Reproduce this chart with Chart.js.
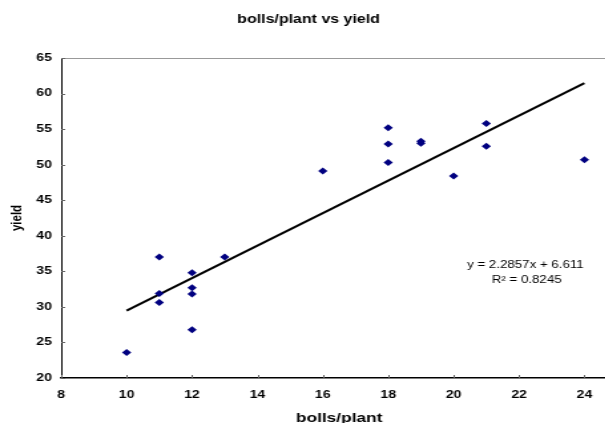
<!DOCTYPE html>
<html>
<head>
<meta charset="utf-8">
<script src="https://cdn.jsdelivr.net/npm/chart.js@4"></script>
<style>
  body { margin: 0; overflow: hidden; background: #fff; }
  #wrap { width: 605px; height: 423px; overflow: hidden; }
  /* the original picture is stretched sideways, so stretch the canvas the same way */
  #chart { transform: scaleX(1.33); transform-origin: 0 0; }
</style>
</head>
<body>
<div id="wrap"><canvas id="chart" width="490" height="423"></canvas></div>
<script>
// bolls per plant and yield
const bollsPerPlant = [10, 11, 11, 11, 12, 12, 12, 12, 13, 16, 18, 18, 18, 19, 19, 20, 21, 21, 24];
const yieldValues = [23.6, 37.0, 31.9, 30.6, 34.8, 32.7, 31.8, 26.8, 37.0, 49.1, 55.2, 52.9, 50.3, 53.3, 53.0, 48.4, 55.8, 52.6, 50.7];
const trendSlope = 2.2857;
const trendIntercept = 6.611;
const trendX = [10, 24];
const equationLines = ['y = 2.2857x + 6.611', 'R² = 0.8245'];

const points = bollsPerPlant.map((x, i) => ({ x: x, y: yieldValues[i] }));
const trend = trendX.map(x => ({ x: x, y: trendSlope * x + trendIntercept }));

const font = 'Liberation Sans, Arial, sans-serif';

// gray top border, inner tick marks and the equation label
const excelBits = {
  id: 'excelBits',
  afterDraw(chart) {
    const ctx = chart.ctx;
    const area = chart.chartArea;
    const xs = chart.scales.x, ys = chart.scales.y;
    ctx.save();
    ctx.strokeStyle = '#999';
    ctx.lineWidth = 1;
    ctx.beginPath();
    ctx.moveTo(area.left, area.top + 0.5);
    ctx.lineTo(chart.width, area.top + 0.5);
    ctx.stroke();

    ctx.strokeStyle = '#666';
    ctx.beginPath();
    xs.ticks.forEach(t => {
      const px = Math.round(xs.getPixelForValue(t.value)) + 0.5;
      ctx.moveTo(px, area.bottom);
      ctx.lineTo(px, area.bottom - 3);
    });
    ys.ticks.forEach(t => {
      const py = Math.round(ys.getPixelForValue(t.value)) + 0.5;
      ctx.moveTo(area.left, py);
      ctx.lineTo(area.left + 3, py);
    });
    ctx.stroke();

    ctx.fillStyle = '#000';
    ctx.font = '10px ' + font;
    ctx.textAlign = 'center';
    ctx.textBaseline = 'middle';
    ctx.fillText(equationLines[0], 395, 265);
    ctx.fillText(equationLines[1], 396, 280);
    ctx.restore();
  }
};

new Chart(document.getElementById('chart'), {
  type: 'scatter',
  data: {
    datasets: [
      {
        label: 'yield',
        data: points,
        pointStyle: 'rectRot',
        pointRadius: 3.5,
        pointBackgroundColor: '#000080',
        pointBorderColor: '#000080',
        borderWidth: 0
      },
      {
        label: 'trend',
        type: 'line',
        data: trend,
        borderColor: '#000',
        borderWidth: 2,
        pointRadius: 0,
        fill: false
      }
    ]
  },
  options: {
    responsive: false,
    animation: false,
    layout: { padding: { top: 0, right: 26, bottom: 0, left: 0 } },
    plugins: {
      legend: { display: false },
      tooltip: { enabled: false },
      title: {
        display: true,
        text: 'bolls/plant vs yield',
        color: '#000',
        font: { family: font, size: 12, weight: 'bold' },
        padding: { top: 12, bottom: 31.6 }
      }
    },
    scales: {
      x: {
        type: 'linear',
        min: 8,
        max: 25,
        ticks: { stepSize: 2, color: '#000', padding: 11, maxRotation: 0, font: { family: font, size: 10.5, weight: 'bold' } },
        afterBuildTicks(scale) {
          scale.ticks = scale.ticks.filter(t => t.value % 2 === 0 && t.value <= 24);
        },
        afterFit(scale) { scale.height = 45; },
        grid: { display: false, drawTicks: false },
        border: { display: true, color: '#000', width: 1.5 },
        title: {
          display: true,
          text: 'bolls/plant',
          color: '#000',
          font: { family: font, size: 13, weight: 'bold' },
          padding: { top: 0, bottom: -3 }
        }
      },
      y: {
        min: 20,
        max: 65,
        ticks: { stepSize: 5, color: '#000', padding: 7, font: { family: font, size: 10.5, weight: 'bold' } },
        afterFit(scale) { scale.width = 46; },
        grid: { display: false, drawTicks: false },
        border: { display: true, color: '#000', width: 1 },
        title: {
          display: true,
          text: 'yield',
          color: '#000',
          font: { family: font, size: 11.5, weight: 'bold' },
          padding: { top: 6, bottom: 0 }
        }
      }
    }
  },
  plugins: [excelBits]
});
</script>
</body>
</html>
